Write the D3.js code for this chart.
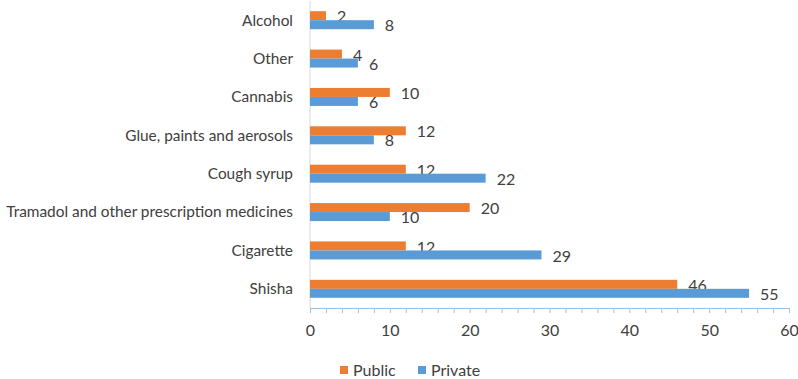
<!DOCTYPE html>
<html>
<head>
<meta charset="utf-8">
<script src="https://cdn.jsdelivr.net/npm/d3@7"></script>
<style>
  body { margin: 0; background: #fff; }
  svg { display: block; font-family: Lato, "Open Sans", sans-serif; }
</style>
</head>
<body>
<svg id="chart"></svg>
<script>
(function () {
    'use strict';

    // categories listed bottom to top as in the picture
    var categories = ['Shisha', 'Cigarette', 'Tramadol and other prescription medicines', 'Cough syrup',
        'Glue, paints and aerosols', 'Cannabis', 'Other', 'Alcohol'];
    var publicValues = [46, 12, 20, 12, 12, 10, 4, 2];
    var privateValues = [55, 29, 10, 22, 8, 6, 6, 8];
    var seriesNames = ['Public', 'Private'];
    var xTicks = [0, 10, 20, 30, 40, 50, 60];

    var width = 798, height = 379;
    var colors = { Public: '#ED7D31', Private: '#5B9BD5' };
    var textColor = '#404040';
    var fontSize = 16;

    var chart = d3.select('#chart')
        .attr('width', width)
        .attr('height', height);

    var scaleX = d3.scaleLinear()
        .domain([0, 60])
        .range([310, 789]);

    // top of the picture is the last category
    var scaleY = d3.scaleBand()
        .domain(categories.slice().reverse())
        .range([1, 308]);

    var inner = d3.scaleBand()
        .domain(seriesNames)
        .range([scaleY.bandwidth() / 2 - 9, scaleY.bandwidth() / 2 + 9]);

    var rows = categories.map(function (c, i) {
        return { name: c, Public: publicValues[i], Private: privateValues[i] };
    });

    // minor ticks every 2
    chart.append('g')
        .attr('transform', 'translate(0,308)')
        .call(d3.axisBottom(scaleX).tickValues(d3.range(0, 61, 2)).tickSize(5).tickFormat(''))
        .call(function (g) {
            g.select('.domain').attr('stroke', '#9DC3E6');
            g.selectAll('.tick line').attr('stroke', '#9DC3E6');
        });

    chart.append('g')
        .attr('transform', 'translate(0,308)')
        .call(d3.axisBottom(scaleX).tickValues(xTicks).tickSize(0).tickPadding(17))
        .call(function (g) {
            g.select('.domain').remove();
            g.selectAll('text')
                .attr('fill', textColor)
                .attr('font-size', fontSize)
                .attr('font-family', 'Lato, "Open Sans", sans-serif');
        });

    // vertical category axis line
    chart.append('line')
        .attr('x1', scaleX(0)).attr('x2', scaleX(0))
        .attr('y1', 1).attr('y2', 308)
        .attr('stroke', '#D9D9D9');

    chart.append('g')
        .selectAll('text')
        .data(categories)
        .enter().append('text')
        .attr('x', 293)
        .attr('y', function (d) { return scaleY(d) + scaleY.bandwidth() / 2; })
        .attr('dy', '0.35em')
        .attr('text-anchor', 'end')
        .attr('fill', textColor)
        .attr('font-size', 15.4)
        .text(function (d) { return d; });

    seriesNames.forEach(function (s) {
        var group = chart.append('g').attr('class', s.toLowerCase());

        group.selectAll('rect')
            .data(rows)
            .enter().append('rect')
            .attr('x', scaleX(0))
            .attr('y', function (d) { return scaleY(d.name) + inner(s); })
            .attr('width', function (d) { return scaleX(d[s]) - scaleX(0); })
            .attr('height', inner.bandwidth())
            .attr('fill', colors[s]);

        group.selectAll('text')
            .data(rows)
            .enter().append('text')
            .attr('x', function (d) { return scaleX(d[s]) + 11; })
            .attr('y', function (d) { return scaleY(d.name) + inner(s) + inner.bandwidth() / 2 + 1; })
            .attr('dy', '0.35em')
            .attr('fill', textColor)
            .attr('font-size', fontSize)
            .text(function (d) { return d[s]; });
    });

    // legend
    var legendX = [340, 418];
    var legend = chart.append('g').selectAll('g')
        .data(seriesNames)
        .enter().append('g')
        .attr('transform', function (d, i) { return 'translate(' + legendX[i] + ',370)'; });

    legend.append('rect')
        .attr('x', 0).attr('y', -4)
        .attr('width', 8).attr('height', 8)
        .attr('fill', function (d) { return colors[d]; });

    legend.append('text')
        .attr('x', 13)
        .attr('y', 0)
        .attr('dy', '0.35em')
        .attr('fill', textColor)
        .attr('font-size', fontSize)
        .text(function (d) { return d; });
}());
</script>
</body>
</html>
